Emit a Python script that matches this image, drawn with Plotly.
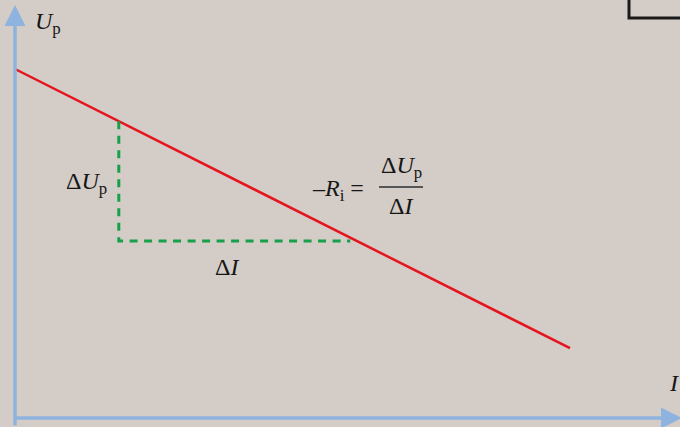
import plotly.graph_objects as go

# --- data (abstract units) ---
current = [0.0, 10.0]            # I
voltage = [10.0, 2.0]            # U_p
tri_I = [1.87, 1.87, 6.04]       # dashed helper triangle, I values
tri_U = [8.5, 5.07, 5.07]        # dashed helper triangle, U values

W, H = 680, 427
X0, Y0 = 15, 418          # pixel position of origin
KX, KY = 55.5, 34.9       # px per unit
xr = [(0 - X0) / KX, (W - X0) / KX]
yr = [(Y0 - H) / KY, Y0 / KY]

def px(x):
    return (x - X0) / KX

def py(y):
    return (Y0 - y) / KY

BG = "#d4ccc7"
AX = "#8fb3df"
FONT = "Liberation Serif"
TXT = "#161616"

fig = go.Figure()
fig.add_trace(go.Scatter(x=current, y=voltage, mode="lines",
                         line=dict(color="#e5141e", width=2.5), hoverinfo="skip"))
fig.add_trace(go.Scatter(x=tri_I, y=tri_U, mode="lines",
                         line=dict(color="#17a04a", width=3, dash="8px,6.5px"), hoverinfo="skip"))

anns = []
# axes with arrows
anns.append(dict(x=0, y=py(5), ax=0, ay=py(H), xref="x", yref="y", axref="x", ayref="y",
                 showarrow=True, arrowhead=2, arrowsize=1.2, arrowwidth=3.5, arrowcolor=AX, text=""))
anns.append(dict(x=px(W + 2), y=0, ax=px(13), ay=0, xref="x", yref="y", axref="x", ayref="y",
                 showarrow=True, arrowhead=2, arrowsize=1.2, arrowwidth=3.5, arrowcolor=AX, text=""))

def lab(text, x, y, size=24, **kw):
    anns.append(dict(x=px(x), y=py(y), xref="x", yref="y", text=text, showarrow=False,
                     font=dict(family=FONT, size=size, color=TXT), **kw))

lab("<i>U</i><sub>p</sub>", 48, 23)
lab("<i>I</i>", 674, 383, xanchor="center")
lab("Δ<i>U</i><sub>p</sub>", 86, 183)
lab("Δ<i>I</i>", 227, 267)
lab("–<i>R</i><sub>i</sub> =", 338, 190)
lab("Δ<i>U</i><sub>p</sub>", 401, 167)
lab("Δ<i>I</i>", 401, 206)

shapes = [
    dict(type="line", xref="x", yref="y", x0=px(379), x1=px(423), y0=py(187), y1=py(187),
         line=dict(color="#555555", width=1.8)),
    dict(type="path", xref="paper", yref="paper",
         path=f"M {629/W} 1 L {629/W} {1-18/H} L 1 {1-18/H}",
         line=dict(color="#1a1a1a", width=3)),
]

fig.update_layout(
    width=W, height=H, margin=dict(l=0, r=0, t=0, b=0),
    paper_bgcolor=BG, plot_bgcolor=BG, showlegend=False,
    xaxis=dict(range=xr, visible=False, fixedrange=True),
    yaxis=dict(range=yr, visible=False, fixedrange=True),
    annotations=anns, shapes=shapes,
)
fig.write_html("out.html", config={"displayModeBar": False},
               post_script="document.body.style.margin='0';document.body.style.overflow='hidden';")
